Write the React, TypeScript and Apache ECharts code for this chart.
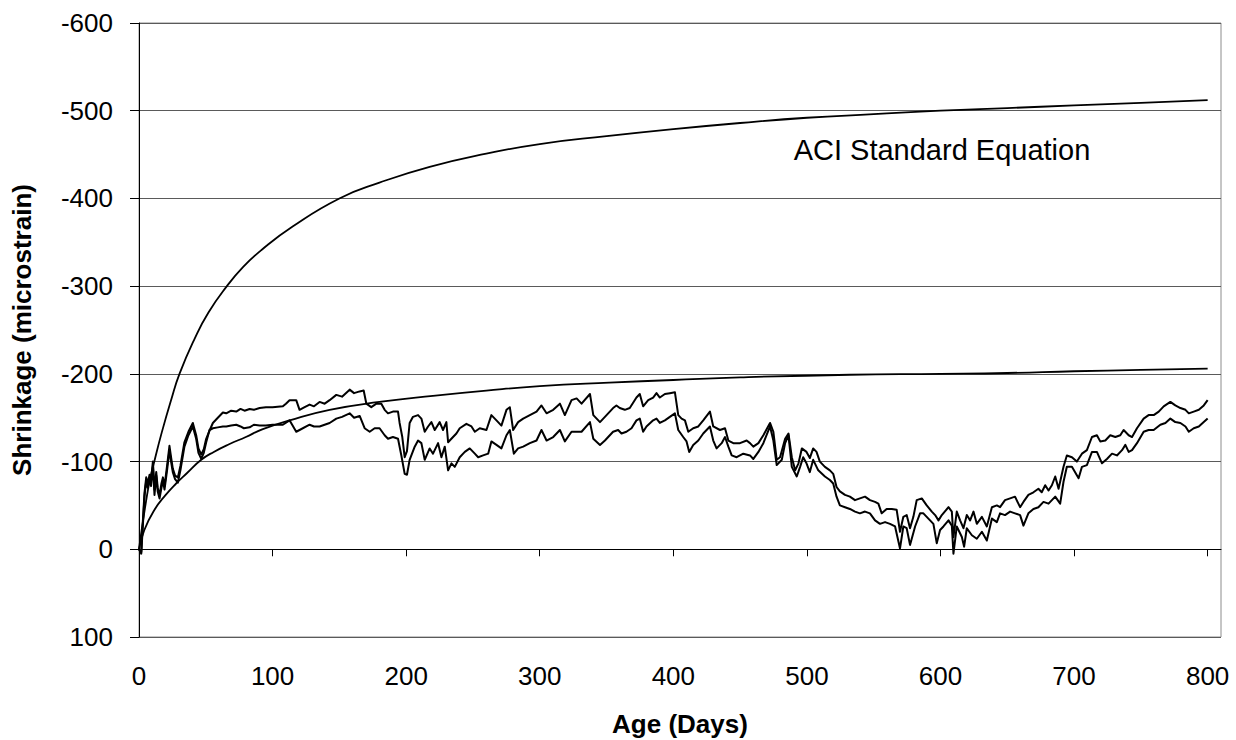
import React, { useEffect, useRef } from "react";
import * as echarts from "echarts";

const xTicks = [0, 100, 200, 300, 400, 500, 600, 700, 800];

const aciStandard: [number, number][] = [
  [0, 0], [2, -22], [5, -52], [8, -78], [11.6, -101], [17, -133], [24, -170], [30.3, -200],
  [41.6, -240], [52, -270], [65.8, -300], [78, -322], [91.5, -341], [115, -368], [150, -400],
  [180, -418], [217.6, -436], [260, -451], [300, -462], [350, -471], [400, -479], [450, -486],
  [500, -492], [550, -496], [600, -500], [650, -503], [700, -506], [750, -509], [800, -512],
];

const fittedModel: [number, number][] = [
  [0, 0], [4, -22], [11.6, -45], [20, -62], [27.8, -75], [36, -87], [46.6, -102], [56, -111],
  [67.8, -120], [80, -128], [92.7, -137], [112.7, -147], [142.7, -159], [180, -168], [220, -175],
  [260, -181], [300, -186], [352, -190], [400, -193], [450, -196], [532, -199], [600, -200],
  [650, -201], [700, -203], [750, -204.5], [800, -206],
];

const gaugeA: [number, number][] = [
  [0, 0], [1.7, 3], [2.8, -30], [4.1, -64], [5.4, -82], [6.5, -75], [7.9, -85], [9, -78], [10.4, -100],
  [11.6, -68], [12.9, -88], [14, -70], [15.4, -62], [16.8, -75], [17.9, -82], [19.1, -72], [21, -95],
  [22.8, -118], [24, -105], [25.3, -92], [27, -84], [29.1, -82], [31, -95], [34, -122], [37, -134],
  [40.3, -144], [42.8, -130], [44.5, -115], [46.6, -108], [48.5, -114], [50.3, -126], [53, -136],
  [55.3, -144], [59, -150], [62.8, -156], [65.3, -155], [69, -158], [72.8, -157], [76, -160], [79, -158],
  [82.8, -160], [86, -159], [90.3, -161], [95, -162], [100, -162], [107.7, -163], [110, -166],
  [112.7, -170], [117.7, -170], [120.2, -159], [124, -162], [127.7, -165], [131, -163], [135.2, -168],
  [139, -166], [142.7, -170], [147.7, -176], [152, -174], [157.7, -182], [161, -178], [165.2, -180],
  [168.2, -181], [170.2, -166], [173.9, -162], [177.7, -166], [181.4, -166], [183.9, -159], [186.4, -155],
  [190.1, -157], [193.9, -157], [195.1, -144], [197.1, -128], [198.9, -105], [200.6, -112], [202.6, -144],
  [205.1, -151], [208.9, -153], [211.4, -149], [213.9, -134], [216.4, -140], [218.9, -145], [221.4, -136],
  [225.1, -145], [227.6, -136], [230.1, -145], [231.4, -122], [235.1, -128], [237.6, -132], [240.1, -138],
  [245.1, -143], [248.9, -140], [251.4, -134], [255.1, -138], [260.1, -136], [263.8, -153], [267.6, -147],
  [271.3, -141], [275.1, -159], [277.6, -162], [280.1, -136], [283.8, -145], [287.6, -149], [292.6, -153],
  [297.6, -157], [301.3, -164], [305.1, -155], [310.1, -159], [315.1, -166], [318.8, -153], [323.8, -170],
  [327.6, -172], [331.3, -166], [337.6, -177], [340.1, -153], [345.1, -145], [348.8, -151], [354.9, -161],
  [357.4, -164], [359.9, -161], [363.7, -159], [367.4, -161], [372.4, -173], [374.9, -177], [377.4, -163],
  [381.2, -170], [384.9, -173], [387.4, -178], [389.9, -173], [393.7, -177], [397.4, -178], [401.2, -179],
  [403.7, -153], [406.2, -149], [408.7, -147], [411.2, -134], [414.9, -138], [418.7, -140], [422.4, -147],
  [427.4, -157], [429.9, -140], [434.9, -136], [438.7, -138], [441.2, -124], [444.9, -121], [449.9, -121],
  [454.9, -124], [457.4, -121], [459.9, -117], [463.7, -121], [467.4, -130], [472.4, -144], [474.9, -134],
  [477.4, -102], [479.9, -105], [483.7, -126], [486.2, -132], [488.7, -105], [491.2, -90], [493.7, -98],
  [496.2, -115], [499.7, -111], [502.2, -104], [504.7, -115], [507.2, -111], [509.7, -100], [513.5, -94],
  [517.2, -90], [519.7, -86], [522.2, -71], [524.7, -66], [528.5, -62], [532.2, -60], [536, -56],
  [539.7, -58], [543.5, -60], [547.2, -56], [551, -54], [553.5, -52], [556, -41], [559.7, -46],
  [563.5, -46], [567.2, -45], [569.7, -20], [572.2, -37], [574.7, -39], [577.2, -24], [579.7, -37],
  [582.2, -56], [586, -58], [589.7, -50], [593.5, -43], [596, -39], [598.5, -33], [601, -39], [606, -48],
  [608.5, -43], [609.7, -14], [612.2, -43], [614.7, -33], [617.2, -24], [619.7, -39], [622.2, -33],
  [624.7, -43], [627.2, -29], [631, -37], [634.7, -26], [638.5, -48], [642.2, -50], [644.6, -48],
  [648.3, -56], [652.1, -58], [655.8, -60], [659.6, -48], [662.1, -54], [665.8, -62], [669.6, -65],
  [673.3, -69], [675.8, -65], [678.4, -73], [680.9, -67], [683.4, -73], [685.9, -83], [688.4, -69],
  [692.1, -94], [694.6, -107], [698.4, -105], [702.1, -100], [705.9, -109], [709.6, -113], [713.4, -128],
  [717.1, -130], [719.6, -123], [723.4, -124], [727.1, -130], [730.9, -128], [734.6, -130], [737.1, -136],
  [740.9, -130], [743.4, -128], [747.1, -138], [752.1, -149], [755.8, -153], [759.6, -153], [763.4, -157],
  [767.1, -163], [772.1, -168], [775.8, -164], [779.6, -161], [783.4, -159], [785.9, -155], [789.6, -157],
  [793.4, -159], [797.1, -164], [800, -170],
];

const gaugeB: [number, number][] = [
  [0, 0], [1.7, 5], [2.8, -25], [4.1, -60], [5.4, -78], [6.5, -70], [7.9, -80], [9, -72], [10.4, -95],
  [11.6, -62], [12.9, -84], [14, -66], [15.4, -58], [16.8, -70], [17.9, -78], [19.1, -68], [21, -90],
  [22.8, -113], [24, -100], [25.3, -88], [27, -80], [29.1, -76], [31, -90], [34, -117], [37, -130],
  [40.3, -140], [42.8, -126], [44.5, -110], [46.6, -103], [48.5, -110], [50.3, -122], [52.8, -136],
  [55.3, -138], [59, -139], [62.8, -140], [65.3, -140], [69, -141], [72.8, -142], [76, -140], [78.5, -138],
  [82.8, -139], [86, -142], [90.3, -141], [95, -141], [100, -142], [107.7, -142], [112.7, -147],
  [117.7, -134], [120.2, -136], [127.7, -142], [131, -140], [135.2, -140], [142.7, -144], [147.7, -149],
  [152, -151], [157.7, -155], [161, -150], [165.2, -152], [168.9, -138], [172.7, -134], [176.4, -138],
  [180.1, -138], [183.9, -130], [186.4, -126], [190.1, -128], [193.9, -126], [196.4, -107], [198.9, -86],
  [200.6, -85], [202.6, -102], [206.4, -117], [208.9, -124], [211.4, -121], [213.9, -102], [217.6, -115],
  [220.1, -109], [223.9, -121], [226.4, -105], [228.9, -117], [231.4, -90], [233.9, -98], [236.4, -94],
  [240.1, -105], [243.9, -111], [247.6, -115], [251.4, -109], [253.9, -105], [257.6, -107], [261.4, -109],
  [263.8, -123], [267.6, -119], [271.3, -115], [275.1, -130], [277.6, -136], [280.6, -109], [283.8, -115],
  [287.6, -117], [292.6, -121], [297.6, -124], [301.3, -136], [305.1, -124], [310.1, -128], [315.1, -136],
  [318.8, -123], [323.8, -134], [327.6, -134], [331.3, -134], [337.6, -145], [340.1, -126], [345.1, -119],
  [348.8, -124], [354.9, -134], [358.7, -136], [361.2, -132], [364.9, -134], [368.7, -138], [372.4, -147],
  [374.9, -149], [377.4, -134], [379.9, -140], [384.9, -147], [387.4, -149], [389.9, -144], [393.7, -147],
  [397.4, -151], [401.2, -155], [403.7, -136], [407.4, -128], [409.9, -123], [411.9, -111], [414.9, -119],
  [418.7, -124], [422.4, -132], [427.4, -140], [429.9, -124], [432.4, -115], [436.2, -121], [438.7, -128],
  [441.2, -117], [443.7, -107], [447.4, -105], [452.4, -109], [457.4, -107], [459.9, -103], [463.7, -111],
  [467.4, -121], [472.4, -140], [474.9, -124], [477.4, -96], [481.2, -102], [483.7, -121], [486.2, -130],
  [488.7, -94], [492.4, -83], [494.9, -94], [497.2, -105], [499.7, -98], [502.2, -88], [504.7, -102],
  [508.5, -90], [513.5, -83], [517.2, -79], [519.7, -75], [522.2, -60], [524.7, -50], [528.5, -48],
  [532.2, -46], [536, -43], [539.7, -41], [543.5, -43], [547.2, -41], [551, -33], [554.7, -29],
  [558.5, -31], [562.2, -29], [566, -26], [569.7, -1], [572.2, -26], [574.7, -24], [577.2, -5], [581, -26],
  [584.7, -41], [587.2, -41], [592.2, -33], [594.7, -29], [597.2, -7], [599.7, -22], [602.2, -26],
  [606, -33], [608.5, -27], [609.7, 5], [612.2, -26], [616, -14], [617.7, -3], [619.7, -24], [623.5, -16],
  [627.2, -12], [631, -20], [634.7, -10], [638.5, -35], [642.2, -31], [644.6, -41], [648.3, -39],
  [652.1, -43], [655.8, -41], [659.6, -39], [662.1, -27], [665.8, -41], [669.6, -46], [673.3, -48],
  [677.1, -54], [680.9, -52], [683.4, -56], [685.9, -60], [689.6, -52], [692.1, -77], [694.6, -94],
  [698.4, -94], [703.4, -81], [705.9, -94], [709.6, -96], [713.4, -111], [717.1, -111], [720.9, -98],
  [724.6, -103], [728.4, -109], [732.1, -107], [735.9, -113], [738.4, -119], [740.9, -111], [743.4, -113],
  [747.1, -121], [752.1, -134], [755.8, -136], [759.6, -136], [764.6, -142], [768.4, -144], [772.1, -149],
  [775.8, -145], [779.6, -144], [783.4, -140], [785.9, -134], [789.6, -138], [793.4, -140], [797.1, -145],
  [800, -149],
];

const FONT = "'Liberation Sans', Arial, Helvetica, sans-serif";

export default function App() {
  const ref = useRef<HTMLDivElement>(null);

  useEffect(() => {
    document.body.style.margin = "0";
    const chart = echarts.init(ref.current!, null, { renderer: "svg" });
    const lineSeries = (name: string, data: [number, number][], width: number, smooth: boolean) => ({
      name,
      type: "line",
      data,
      showSymbol: false,
      symbol: "none",
      smooth: smooth ? 0.5 : false,
      silent: true,
      lineStyle: { color: "#000", width, join: "round" },
      z: 3,
    });
    chart.setOption({
      animation: false,
      backgroundColor: "#fff",
      textStyle: { fontFamily: FONT },
      grid: {
        left: 139,
        right: 15,
        top: 23,
        bottom: 103,
        show: true,
        borderColor: "#8c8c8c",
        borderWidth: 1,
        backgroundColor: "transparent",
        outerBoundsMode: "none",
      },
      xAxis: {
        type: "value",
        min: 0,
        max: 810,
        interval: 100,
        axisLine: { show: true, lineStyle: { color: "#000", width: 1 } },
        axisTick: { show: true, length: 7, inside: false, customValues: xTicks, lineStyle: { color: "#000" } },
        axisLabel: { customValues: xTicks, fontSize: 26, color: "#000", margin: 26, fontFamily: FONT },
        splitLine: { show: false },
        name: "Age (Days)",
        nameLocation: "middle",
        nameGap: 74,
        nameTextStyle: { fontSize: 26, fontWeight: "bold", color: "#000", fontFamily: FONT },
      },
      yAxis: {
        type: "value",
        inverse: true,
        min: -600,
        max: 100,
        interval: 100,
        axisLine: { show: true, lineStyle: { color: "#000", width: 1 } },
        axisTick: { show: true, length: 9, inside: false, lineStyle: { color: "#000" } },
        axisLabel: { fontSize: 26, color: "#000", margin: 26, fontFamily: FONT },
        splitLine: { show: true, lineStyle: { color: "#5a5a5a", width: 1 } },
        name: "Shrinkage (microstrain)",
        nameLocation: "middle",
        nameGap: 104,
        nameTextStyle: { fontSize: 26, fontWeight: "bold", color: "#000", fontFamily: FONT },
      },
      series: [
        lineSeries("ACI Standard Equation", aciStandard, 1.8, true),
        lineSeries("Model", fittedModel, 1.8, true),
        lineSeries("Gauge A", gaugeA, 2, false),
        lineSeries("Gauge B", gaugeB, 2, false),
      ],
      graphic: [
        {
          type: "text",
          x: 942,
          y: 150,
          style: {
            text: "ACI Standard Equation",
            fontSize: 29,
            fontFamily: FONT,
            fill: "#000",
            align: "center",
            verticalAlign: "middle",
          },
        },
      ],
    });
    return () => chart.dispose();
  }, []);

  return (
    <div
      ref={ref}
      style={{ position: "absolute", left: 0, top: 0, width: 1236, height: 740 }}
    />
  );
}
